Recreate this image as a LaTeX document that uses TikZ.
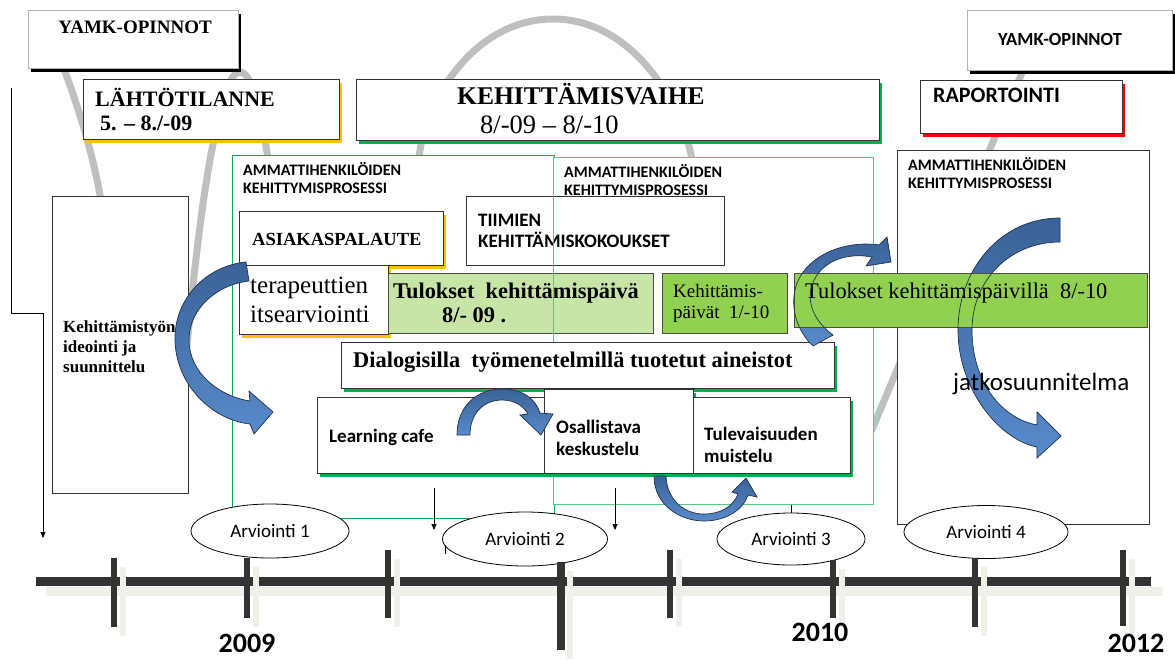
\documentclass[tikz,border=0pt]{standalone}
\usepackage{fontspec}
\setmainfont{Liberation Serif}
\newfontfamily\calfont{Carlito}
\usetikzlibrary{arrows.meta,shadows,shapes.geometric}

\definecolor{gold}{RGB}{255,192,0}
\definecolor{ogreen}{RGB}{0,176,80}
\definecolor{fgreen}{RGB}{90,200,130}
\definecolor{lgreen}{RGB}{200,229,168}
\definecolor{mgreen}{RGB}{146,208,80}
\definecolor{wavegray}{RGB}{191,191,191}
\definecolor{ablueT}{RGB}{58,98,152}
\definecolor{ablueB}{RGB}{88,138,202}
\definecolor{ablueD}{RGB}{30,50,80}
\definecolor{axisgray}{RGB}{51,51,51}
\definecolor{axisshadow}{RGB}{240,240,234}

\tikzset{
  box/.style={draw=black!80,fill=white,line width=0.9pt,inner sep=0pt,anchor=north west},
  sh/.style={drop shadow={shadow xshift=2.5pt,shadow yshift=-4pt,fill=#1,opacity=1}},
  frame/.style={box,draw=#1,line width=0.8pt},
  txt/.style={anchor=base west,inner sep=0pt},
  ell/.style={ellipse,draw=black,fill=white,line width=0.8pt,inner sep=0pt,
    font=\calfont\fontsize{19}{21}\selectfont},
  wave/.style={draw=wavegray,line width=7pt,line cap=round},
  bfill/.style={top color=ablueT,bottom color=ablueB},
  barrow/.style={bfill,draw=ablueD,line width=0.7pt},
  thinarr/.style={-{Triangle[length=6pt,width=5pt]},line width=0.8pt}
}

\begin{document}
\begin{tikzpicture}[x=1pt,y=-1pt]
\useasboundingbox (0,0) rectangle (1175,659);
\fill[white] (0,0) rectangle (1175,659);

% gray wave in the background
\draw[wave] (48,30) .. controls (70,80) and (90,140) .. (100,195)
  .. controls (115,290) and (125,465) .. (150,465)
  .. controls (172,465) and (181,400) .. (188,335)
  .. controls (195,260) and (205,180) .. (214,140)
  .. controls (222,100) and (230,72) .. (240,72)
  .. controls (250,72) and (258,100) .. (265,140)
  .. controls (280,230) and (300,460) .. (340,460)
  .. controls (380,460) and (405,250) .. (420,150)
  .. controls (430,90) and (480,19) .. (553,19)
  .. controls (626,19) and (675,90) .. (690,150)
  .. controls (710,240) and (760,480) .. (835,480)
  .. controls (850,480) and (860,455) .. (873,427)
  -- (1040,30);

% phase headers
\node[box,draw=black!30,sh=black,minimum width=210pt,minimum height=58pt] (yamkL) at (28,10) {};
\node[anchor=base,inner sep=0pt,font=\bfseries\fontsize{19}{23}\selectfont] (yamkLt) at (135,33) {YAMK-OPINNOT};
\node[box,sh=gold,minimum width=256pt,minimum height=60pt] (lahto) at (83,79) {};
\node[txt,font=\bfseries\fontsize{22}{26}\selectfont] (lahtoA) at (95,106) {LÄHTÖTILANNE};
\node[txt,font=\bfseries\fontsize{22}{26}\selectfont] (lahtoB) at (100,130) {5. – 8./-09};
\node[box,sh=ogreen,minimum width=523pt,minimum height=61pt] (kehv) at (356,79) {};
\node[txt,font=\bfseries\fontsize{25.5}{30}\selectfont] (kehvA) at (457,104) {KEHITTÄMISVAIHE};
\node[txt,font=\fontsize{26.5}{30}\selectfont] (kehvB) at (480,133) {8/-09 – 8/-10};
\node[box,sh=red,minimum width=202pt,minimum height=53pt] (rap) at (920,80) {};
\node[txt,font=\calfont\bfseries\fontsize{22}{26}\selectfont] (rapt) at (933,102) {RAPORTOINTI};
\node[box,draw=black!30,sh=black,minimum width=205pt,minimum height=60pt] (yamkR) at (967,10) {};
\node[anchor=base,inner sep=0pt,font=\calfont\bfseries\fontsize{18.5}{22}\selectfont] (yamkRt) at (1060,45) {YAMK-OPINNOT};

% planning box and bracket
\node[box,minimum width=136pt,minimum height=297pt] (kehtyo) at (52,196) {};
\node[txt,font=\bfseries\fontsize{17}{20}\selectfont] (kehtyoA) at (63,332) {Kehittämistyön};
\node[txt,font=\bfseries\fontsize{17}{20}\selectfont] (kehtyoB) at (63,352) {ideointi ja};
\node[txt,font=\bfseries\fontsize{17}{20}\selectfont] (kehtyoC) at (63,372) {suunnittelu};
\coordinate (brTop) at (11,88);
\coordinate (brMid) at (43,313);
\coordinate (brEnd) at (43,538);
\draw[thinarr] (brTop) |- (brMid) -- (brEnd);

% process frames
\node[frame=ogreen,minimum width=322pt,minimum height=363pt] (frameA) at (232,155) {};
\node[frame=fgreen,minimum width=320pt,minimum height=347pt] (frameB) at (553,157) {};
\node[frame=black!80,minimum width=252pt,minimum height=374pt] (frameC) at (897,150) {};
\foreach \n/\x/\y in {A/243/175,B/564/177,C/908/170} {
  \node[txt,font=\calfont\bfseries\fontsize{16}{18}\selectfont] (ammat\n) at (\x,\y) {AMMATTIHENKILÖIDEN};
  \node[txt,font=\calfont\bfseries\fontsize{16}{18}\selectfont] (kehit\n) at (\x,\y+18) {KEHITTYMISPROSESSI};
}

% inputs
\node[box,sh=gold,minimum width=204pt,minimum height=54pt] (asiakas) at (239,211) {};
\node[txt,font=\bfseries\fontsize{18.5}{22}\selectfont] (asiakast) at (252,245) {ASIAKASPALAUTE};
\node[box,sh=gold,minimum width=149pt,minimum height=69pt] (terap) at (239,265) {};
\node[txt,font=\fontsize{25}{29}\selectfont] (terapA) at (250,293) {terapeuttien};
\node[txt,font=\fontsize{25}{29}\selectfont] (terapB) at (250,322) {itsearviointi};
\node[box,minimum width=258pt,minimum height=69pt] (tiimi) at (466,196) {};
\node[txt,font=\calfont\bfseries\fontsize{19}{22}\selectfont] (tiimiA) at (478,226) {TIIMIEN};
\node[txt,font=\calfont\bfseries\fontsize{19}{22}\selectfont] (tiimiB) at (478,247) {KEHITTÄMISKOKOUKSET};
\node[box,fill=lgreen,draw=black!70,minimum width=265pt,minimum height=60pt] (tulosA) at (388,273) {};
\node[txt,font=\bfseries\fontsize{22.4}{26}\selectfont] (tulosAa) at (393,298) {Tulokset\ \ kehittämispäivä};
\node[txt,font=\bfseries\fontsize{22.4}{26}\selectfont] (tulosAb) at (442,322) {8/- 09 .};
\draw[fgreen,line width=0.8pt] (frameB.north west) rectangle (frameB.south east);
\node[box,fill=mgreen,draw=black!70,minimum width=125pt,minimum height=60pt] (kpaiv) at (662,273) {};
\node[txt,font=\fontsize{19}{22}\selectfont] (kpaivA) at (673,297) {Kehittämis-};
\node[txt,font=\fontsize{19}{22}\selectfont] (kpaivB) at (673,318) {päivät\ \ 1/-10};

% methods
\node[box,sh=ogreen,minimum width=493pt,minimum height=46pt] (dialog) at (341,342) {};
\node[txt,font=\bfseries\fontsize{22.4}{26}\selectfont] (dialogt) at (353,367) {Dialogisilla\ \ työmenetelmillä tuotetut aineistot};
\node[box,sh=ogreen,minimum width=227pt,minimum height=76pt] (cafe) at (317,397) {};
\node[txt,font=\calfont\bfseries\fontsize{19}{22}\selectfont] (cafet) at (329,442) {Learning cafe};
\node[box,sh=ogreen,minimum width=149pt,minimum height=84pt] (osal) at (544,389) {};
\node[txt,font=\calfont\bfseries\fontsize{19}{22}\selectfont] (osalA) at (556,433) {Osallistava};
\node[txt,font=\calfont\bfseries\fontsize{19}{22}\selectfont] (osalB) at (556,455) {keskustelu};
\node[box,sh=ogreen,minimum width=157pt,minimum height=76pt] (tulev) at (693,397) {};
\node[txt,font=\calfont\bfseries\fontsize{19}{22}\selectfont] (tulevA) at (704,440) {Tulevaisuuden};
\node[txt,font=\calfont\bfseries\fontsize{19}{22}\selectfont] (tulevB) at (704,462) {muistelu};

% evaluations
\node[ell,minimum width=158pt,minimum height=54pt] (arv1) at (270,531) {Arviointi 1};
\node[ell,minimum width=165pt,minimum height=54pt] (arv2) at (525,539) {Arviointi 2};
\node[ell,minimum width=148pt,minimum height=52pt] (arv3) at (791,539) {Arviointi 3};
\node[ell,minimum width=164pt,minimum height=53pt] (arv4) at (986,532) {Arviointi 4};
\coordinate (dnA) at (434,488);
\coordinate (dnAe) at (434,530);
\coordinate (dnB) at (615,488);
\coordinate (dnBe) at (615,530);
\draw[thinarr] (dnA) -- (dnAe);
\draw[thinarr] (dnB) -- (dnBe);
\draw[line width=1pt] (445,545) -- (445,554);
\draw[line width=0.7pt] (arv3.north) -- (arv3.north |- frameB.south);

% time line
\fill[axisshadow] (46,587) rectangle (1163,596);
\fill[axisgray] (36,577) rectangle (1151,586);
\foreach \x/\a/\b/\w in {114/558/627/6,247/558/618/6,388/550/618/6,561/562/650/8,
    670/550/618/6,833/560/618/6,975/558/627/6,1123/550/626/6} {
  \fill[axisshadow] (\x+6,\a+9) rectangle (\x+12,\b+9);
  \fill[axisgray] (\x-\w/2,\a) rectangle (\x+\w/2,\b);
}
\node[anchor=base,inner sep=0pt,font=\calfont\bfseries\fontsize{28}{32}\selectfont] (y2009) at (247,652) {2009};
\node[anchor=base,inner sep=0pt,font=\calfont\bfseries\fontsize{28}{32}\selectfont] (y2010) at (820,641) {2010};
\node[anchor=base,inner sep=0pt,font=\calfont\bfseries\fontsize{28}{32}\selectfont] (y2012) at (1136,652) {2012};

% blue block arrows
\draw[barrow] (246,262) .. controls (205,266) and (174,300) .. (175,340)
  .. controls (176,385) and (212,420) .. (250,424) -- (254,434) -- (273,412) -- (249,391)
  -- (250,401) .. controls (218,396) and (189,372) .. (189,340)
  .. controls (189,310) and (215,285) .. (249,281) -- cycle;
\draw[barrow] (457,435) .. controls (457,405) and (478,389) .. (502,389)
  .. controls (524,389) and (536,400) .. (540,413) -- (553,414) -- (541,435) -- (520,415)
  -- (528,414) .. controls (524,406) and (514,400) .. (502,400)
  .. controls (485,400) and (470,412) .. (470,435) -- cycle;
\draw[barrow] (654,476) .. controls (654,505) and (680,521) .. (704,521)
  .. controls (728,521) and (744,508) .. (748,495) -- (757,497) -- (746,478) -- (732,492)
  -- (738,494) .. controls (733,507) and (720,514) .. (704,514)
  .. controls (684,514) and (667,500) .. (666,476) -- cycle;
\shade[bfill] (813,346) .. controls (796,330) and (789,305) .. (797,283)
  .. controls (808,255) and (845,240) .. (879,245) -- (887,237) -- (891,262) -- (866,266)
  -- (872,257) .. controls (845,252) and (820,262) .. (812,285)
  .. controls (806,303) and (815,322) .. (833,335) -- cycle;
\shade[bfill] (1060,218) .. controls (1000,218) and (958,270) .. (958,330)
  .. controls (958,390) and (1000,440) .. (1037,447) -- (1037,458) -- (1061,436) -- (1037,412)
  -- (1037,425) .. controls (1000,418) and (972,380) .. (972,330)
  .. controls (972,280) and (1010,242) .. (1060,242) -- cycle;

% results box sits over the arrows, outlines stay visible
\node[box,fill=mgreen,draw=black!70,minimum width=353pt,minimum height=54pt] (tulosB) at (794,273) {};
\node[txt,font=\fontsize{22.4}{26}\selectfont] (tulosBt) at (805,298) {Tulokset kehittämispäivillä\ \ 8/-10};
\draw[ablueD,line width=0.7pt] (813,346) .. controls (796,330) and (789,305) .. (797,283)
  .. controls (808,255) and (845,240) .. (879,245) -- (887,237) -- (891,262) -- (866,266)
  -- (872,257) .. controls (845,252) and (820,262) .. (812,285)
  .. controls (806,303) and (815,322) .. (833,335) -- cycle;
\draw[ablueD,line width=0.7pt] (1060,218) .. controls (1000,218) and (958,270) .. (958,330)
  .. controls (958,390) and (1000,440) .. (1037,447) -- (1037,458) -- (1061,436) -- (1037,412)
  -- (1037,425) .. controls (1000,418) and (972,380) .. (972,330)
  .. controls (972,280) and (1010,242) .. (1060,242) -- cycle;
\node[txt,font=\calfont\fontsize{25}{29}\selectfont] (jatko) at (953,390) {jatkosuunnitelma};
\end{tikzpicture}
\end{document}
